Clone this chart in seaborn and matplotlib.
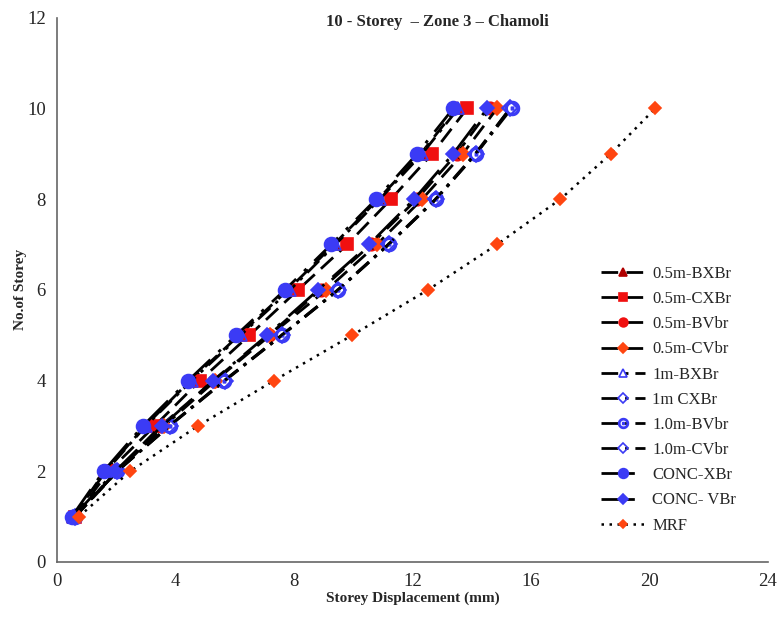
import matplotlib
matplotlib.use("Agg")
import matplotlib.pyplot as plt
import seaborn as sns
import pandas as pd

# Storey numbers and lateral displacements (mm) for each bracing scheme
storeys = [1, 2, 3, 4, 5, 6, 7, 8, 9, 10]

half_bxbr = [0.55, 1.62, 2.98, 4.50, 6.15, 7.80, 9.35, 10.85, 12.28, 13.50]
half_cxbr = [0.60, 1.75, 3.30, 4.83, 6.50, 8.14, 9.80, 11.28, 12.67, 13.85]
half_bvbr = [0.60, 2.00, 3.50, 5.30, 7.15, 8.90, 10.60, 12.15, 13.50, 14.63]
half_cvbr = [0.62, 2.05, 3.62, 5.35, 7.20, 9.10, 10.80, 12.33, 13.70, 14.86]
one_bxbr = [0.55, 1.65, 3.00, 4.55, 6.20, 7.87, 9.40, 10.90, 12.33, 13.55]
one_cxbr = [0.60, 2.03, 3.80, 5.68, 7.60, 9.50, 11.20, 12.80, 14.15, 15.30]
one_bvbr = [0.60, 2.03, 3.80, 5.65, 7.60, 9.50, 11.20, 12.80, 14.15, 15.35]
one_cvbr = [0.60, 2.03, 3.78, 5.65, 7.58, 9.48, 11.18, 12.78, 14.12, 15.30]
conc_xbr = [0.50, 1.57, 2.90, 4.43, 6.05, 7.70, 9.26, 10.78, 12.16, 13.38]
conc_vbr = [0.55, 1.96, 3.55, 5.27, 7.10, 8.82, 10.54, 12.06, 13.38, 14.53]
mrf = [0.74, 2.47, 4.76, 7.33, 9.97, 12.53, 14.86, 17.00, 18.70, 20.20]

labels = ["0.5m-BXBr", "0.5m-CXBr", "0.5m-BVbr", "0.5m-CVbr",
          "1m-BXBr", "1m CXBr", "1.0m-BVbr", "1.0m-CVbr",
          "CONC-XBr", "CONC- VBr", "MRF"]
series = [half_bxbr, half_cxbr, half_bvbr, half_cvbr,
          one_bxbr, one_cxbr, one_bvbr, one_cvbr,
          conc_xbr, conc_vbr, mrf]

blue = "#3b3bf5"
red = "#f01010"
orange = "#ff4510"
dash05 = (0, (6, 3))
dash1 = (0, (6, 2.5, 1.2, 2.5))
dashc = (0, (12, 4, 1.2, 4))

styles = [
    dict(marker="^", mfc="#b00000", mec="#b00000", ms=8, ls=dash05),
    dict(marker="s", mfc=red, mec=red, ms=9, ls=dash05),
    dict(marker="o", mfc=red, mec=red, ms=9, ls=dash05),
    dict(marker="D", mfc=orange, mec=orange, ms=7, ls=dash05),
    dict(marker="^", mfc="none", mec=blue, ms=8, ls=dash1),
    dict(marker="D", mfc="none", mec=blue, ms=8, ls=dash1),
    dict(marker="$\\odot$", mfc=blue, mec=blue, ms=10, ls=dash1),
    dict(marker="D", mfc="none", mec=blue, ms=7, ls=dash1),
    dict(marker="o", mfc=blue, mec=blue, ms=10, ls=dashc),
    dict(marker="D", mfc=blue, mec=blue, ms=7, ls=dashc),
    dict(marker="D", mfc=orange, mec=orange, ms=6, ls=(0, (1, 2.2))),
]

sns.set_style("white")
plt.rcParams["font.family"] = ["Liberation Serif", "DejaVu Serif"]

fig = plt.figure(figsize=(7.81, 6.22), dpi=100)
ax = fig.add_axes([0.073, 0.0965, 0.91, 0.875])

for lab, vals, st in zip(labels, series, styles):
    df = pd.DataFrame({"disp": vals, "storey": storeys})
    sns.lineplot(data=df, x="disp", y="storey", ax=ax, color="black",
                 linewidth=2.0 if lab != "MRF" else 1.8,
                 linestyle=st["ls"], marker=st["marker"],
                 markerfacecolor=st["mfc"], markeredgecolor=st["mec"],
                 markeredgewidth=1.2, markersize=st["ms"],
                 label=lab, sort=False, estimator=None)

ax.set_xlim(0, 24)
ax.set_ylim(0, 12)
ax.set_xticks(range(0, 25, 4))
ax.set_yticks(range(0, 13, 2))
ax.tick_params(axis="both", direction="in", length=5, width=1,
               color="#555555", labelsize=13.5, pad=8)
for side in ("top", "right"):
    ax.spines[side].set_visible(False)
for side in ("left", "bottom"):
    ax.spines[side].set_color("#666666")
    ax.spines[side].set_linewidth(1.2)

ax.set_xlabel("Storey Displacement (mm)", fontsize=11, fontweight="bold", labelpad=1)
ax.set_ylabel("No.of Storey", fontsize=11, fontweight="bold", labelpad=0)

fig.text(0.56, 0.965, "10 - Storey  \u2013 Zone 3 \u2013 Chamoli",
         ha="center", va="center", fontsize=12, fontweight="bold")

leg = ax.legend(loc="center left", bbox_to_anchor=(0.745, 0.298), frameon=False,
                fontsize=12, handlelength=2.6, handletextpad=0.45,
                labelspacing=0.55, markerscale=0.7)

fig.savefig("out.png", dpi=100)
